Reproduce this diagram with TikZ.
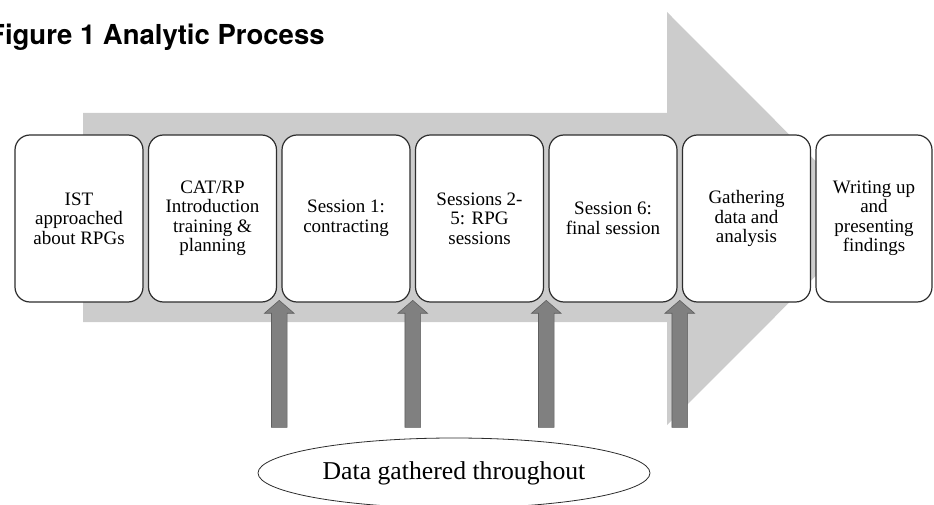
\documentclass[tikz,border=0pt]{standalone}
\usepackage{fontspec}
\setmainfont{Liberation Serif}
\newfontfamily\headfont{TeX Gyre Heros}
\usetikzlibrary{positioning,calc,shapes.geometric,shapes.arrows}
\definecolor{bandgray}{RGB}{204,204,204}
\definecolor{pingray}{RGB}{128,128,128}
\definecolor{pinedge}{RGB}{95,95,95}
\definecolor{boxedge}{RGB}{45,45,45}
\begin{document}
\begin{tikzpicture}[x=1pt, y=-1pt,
    phase/.style={draw=boxedge, line width=1.2pt, fill=white, rounded corners=15pt,
      minimum width=128pt, minimum height=167pt, inner sep=2pt, outer sep=0pt,
      align=center, font=\fontsize{19}{19.5}\selectfont},
    pin/.style={single arrow, rotate=90, draw=pinedge, fill=pingray, line width=0.6pt,
      minimum height=127pt, inner xsep=0pt, inner ysep=7.5pt, single arrow head extend=7pt,
      single arrow tip angle=98, anchor=tip},
    node distance=5.5pt]
  \clip (0,0) rectangle (934,505);
  \fill[bandgray] (83,113) -- (667,113) -- (667,12) -- (873,218.5) -- (667,425)
    -- (667,322) -- (83,322) -- cycle;
  \node[anchor=base west, inner sep=0pt, font=\headfont\bfseries\fontsize{27.5}{30}\selectfont]
    (title) at (-12,45) {Figure 1 Analytic Process};
  \node[phase] (ist) at (79,218.5) {IST\\approached\\about RPGs};
  \node[phase, right=of ist] (cat) {CAT/RP\\Introduction\\training \&\\planning};
  \node[phase, right=of cat] (first) {Session 1:\\contracting};
  \node[phase, right=of first] (middle) {Sessions 2-\\5: RPG\\sessions};
  \node[phase, right=of middle] (last) {Session 6:\\final session};
  \node[phase, right=of last] (analysis) {Gathering\\data and\\analysis};
  \node[phase, right=of analysis, minimum width=116pt] (write) {Writing up\\and\\presenting\\findings};
  \foreach \a/\b in {cat/first, first/middle, middle/last, last/analysis} {
    \coordinate (gap) at ($(\a.east)!0.5!(\b.west)$);
    \node[pin] at (gap |- 0,300) {};
  }
  \node[ellipse, draw=boxedge, line width=0.8pt, minimum width=392pt, minimum height=70pt,
    font=\fontsize{25.7}{28}\selectfont] (data) at (454,473) {Data gathered throughout};
\end{tikzpicture}
\end{document}
